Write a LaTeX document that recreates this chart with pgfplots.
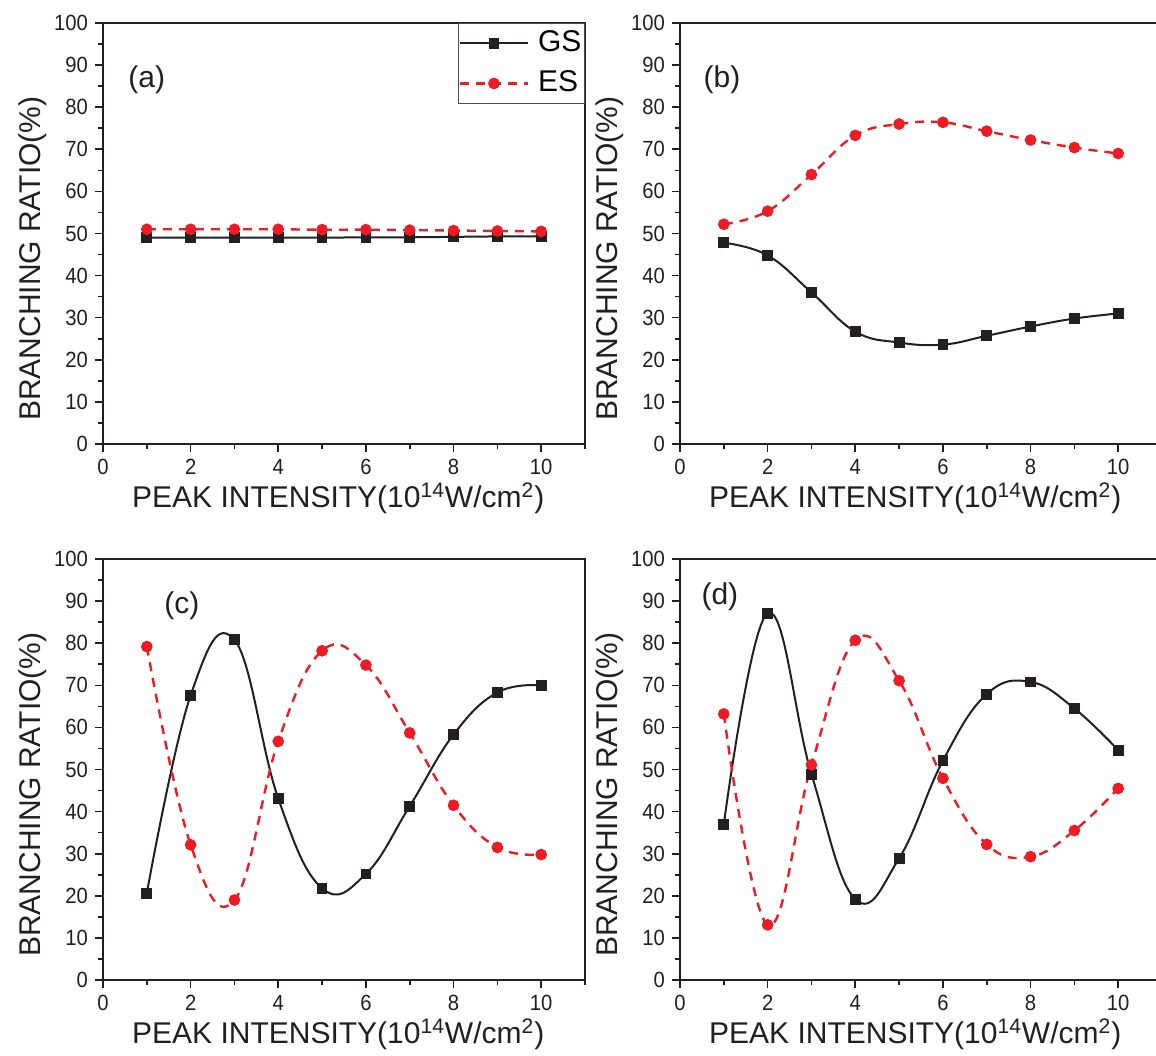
\documentclass[border=0pt]{standalone}
\usepackage{fontspec}
\setmainfont{Liberation Sans}
\newfontfamily\tickfont[FakeStretch=0.92]{Liberation Sans}
\usepackage{pgfplots}
\pgfplotsset{compat=1.18}
\definecolor{esred}{RGB}{237,28,36}
\definecolor{gsblack}{RGB}{35,31,32}

\tikzset{plabel/.style={font=\fontsize{15}{18}\selectfont, text=gsblack}}
\pgfplotsset{
  brpanel/.style={
    scale only axis, width=241pt, height=210.5pt,
    xmin=0, xmax=11, ymin=0, ymax=100,
    xtick={0,2,...,10}, minor xtick={1,3,...,11},
    ytick={0,10,...,100}, minor ytick={5,15,...,95},
    tick pos=left, tick align=outside,
    major tick length=4pt, minor tick length=2.5pt,
    axis line style={line width=1pt, gsblack},
    tick style={line width=0.8pt, gsblack},
    ticklabel style={font=\fontsize{11}{13}\tickfont, text=gsblack},
    /pgf/number format/assume math mode=true,
    xlabel={PEAK INTENSITY(10\textsuperscript{14}W/cm\textsuperscript{2})},
    ylabel={BRANCHING RATIO(\%)},
    label style={font=\fontsize{15}{18}\selectfont, text=gsblack},
    xlabel style={at={(axis description cs:0.488,-0.152)}, anchor=base},
    ylabel style={at={(axis description cs:-0.145,0.44)}, anchor=center},
    clip=false,
  },
  gs/.style={gsblack, line width=1pt, smooth, tension=0.7, mark=square*, mark size=2.2pt, mark options={solid}},
  es/.style={esred, line width=1.2pt, dash pattern=on 4.5pt off 3.5pt, smooth, tension=0.7, mark=*, mark size=2.3pt, mark options={solid}},
}

\begin{document}
\begin{tikzpicture}
% (a)
\begin{axis}[brpanel, at={(0pt,268pt)}, anchor=south west,
  legend style={at={(rel axis cs:1,1)}, anchor=north east, draw=gsblack!80, line width=0.5pt,
    font=\fontsize{15}{18}\selectfont, inner xsep=0pt, inner ysep=3pt, row sep=6pt, column sep=3pt,
    nodes={text height=11pt, text depth=3pt, inner xsep=1.5pt, inner ysep=0pt}},
  legend cell align=left,
  legend image code/.code={\draw[mark repeat=2, mark phase=2, #1] plot coordinates {(0pt,0pt) (17pt,0pt) (34pt,0pt)};}]
\addplot[gs] coordinates {(1,49.0) (2,49.0) (3,49.0) (4,49.0) (5,49.0) (6,49.1) (7,49.1) (8,49.2) (9,49.3) (10,49.3)};
\addplot[es] coordinates {(1,51.0) (2,51.0) (3,51.0) (4,51.0) (5,50.9) (6,50.9) (7,50.8) (8,50.7) (9,50.6) (10,50.5)};
\legend{GS, ES}
\node[plabel] at (axis cs:1.0,86.5) {(a)};
\end{axis}
% (b)
\begin{axis}[brpanel, at={(288.5pt,268pt)}, anchor=south west]
\addplot[gs] coordinates {(1,47.8) (2,44.8) (3,36.0) (4,26.7) (5,24.1) (6,23.6) (7,25.7) (8,27.9) (9,29.8) (10,31.0)};
\addplot[es] coordinates {(1,52.2) (2,55.3) (3,64.0) (4,73.3) (5,76.0) (6,76.4) (7,74.3) (8,72.2) (9,70.4) (10,69.0)};
\node[plabel] at (axis cs:0.96,86.5) {(b)};
\end{axis}
% (c)
\begin{axis}[brpanel, at={(0pt,0pt)}, anchor=south west]
\addplot[gs] coordinates {(1,20.6) (2,67.6) (3,80.8) (4,43.1) (5,21.8) (6,25.2) (7,41.3) (8,58.3) (9,68.3) (10,70.0)};
\addplot[es] coordinates {(1,79.2) (2,32.1) (3,19.0) (4,56.7) (5,78.2) (6,74.8) (7,58.7) (8,41.5) (9,31.5) (10,29.8)};
\node[plabel] at (axis cs:1.8,89) {(c)};
\end{axis}
% (d)
\begin{axis}[brpanel, at={(288.5pt,0pt)}, anchor=south west]
\addplot[gs] coordinates {(1,37.0) (2,87.1) (3,48.9) (4,19.2) (5,28.9) (6,52.1) (7,67.9) (8,70.8) (9,64.5) (10,54.6)};
\addplot[es] coordinates {(1,63.2) (2,13.1) (3,51.1) (4,80.7) (5,71.1) (6,47.9) (7,32.2) (8,29.3) (9,35.5) (10,45.5)};
\node[plabel] at (axis cs:0.91,91) {(d)};
\end{axis}
\pgfresetboundingbox
\path[use as bounding box] (-51.5pt,-37.5pt) rectangle (526.5pt,490pt);
\end{tikzpicture}
\end{document}
